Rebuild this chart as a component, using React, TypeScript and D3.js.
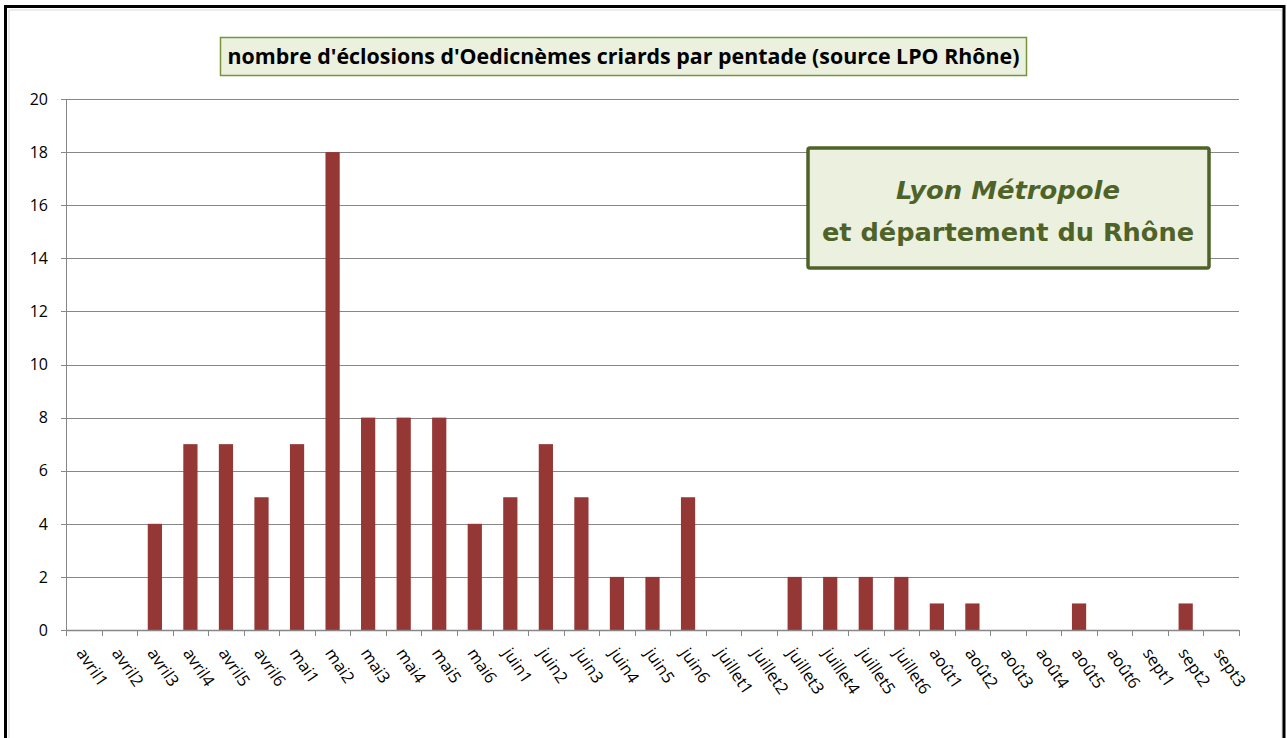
import React from "react";
import * as d3 from "d3";

const categories: string[] = [
  "avril1", "avril2", "avril3", "avril4", "avril5", "avril6",
  "mai1", "mai2", "mai3", "mai4", "mai5", "mai6",
  "juin1", "juin2", "juin3", "juin4", "juin5", "juin6",
  "juillet1", "juillet2", "juillet3", "juillet4", "juillet5", "juillet6",
  "août1", "août2", "août3", "août4", "août5", "août6",
  "sept1", "sept2", "sept3",
];
const values: number[] = [
  0, 0, 4, 7, 7, 5,
  7, 18, 8, 8, 8, 4,
  5, 7, 5, 2, 2, 5,
  0, 0, 2, 2, 2, 2,
  1, 1, 0, 0, 1, 0,
  0, 1, 0,
];
const yTicks: number[] = [0, 2, 4, 6, 8, 10, 12, 14, 16, 18, 20];
const title = "nombre d'éclosions d'Oedicnèmes criards par pentade (source LPO Rhône)";
const boxLines: string[] = ["Lyon Métropole", "et département du Rhône"];

const W = 1287;
const H = 738;
const plot = { left: 66, right: 1239, top: 99, bottom: 630 };
const font = "'Open Sans', 'Noto Sans', sans-serif";

export default function App() {
  const x = d3
    .scaleBand<string>()
    .domain(categories)
    .range([plot.left, plot.right])
    .paddingInner(0)
    .paddingOuter(0);
  const y = d3.scaleLinear().domain([0, 20]).range([plot.bottom, plot.top]);
  const bw = x.bandwidth();
  const barW = bw * 0.4;

  return (
    <svg
      width={W}
      height={H}
      style={{ position: "absolute", left: 0, top: 0, background: "#fff" }}
    >
      <rect x={0} y={0} width={W} height={H} fill="#fff" />
      {/* outer frame */}
      <path d="M9,738 V10 H1282 V738" fill="none" stroke="#d9d9d9" strokeWidth={1} />
      <path d="M5.5,738 V6.5 H1284 V738" fill="none" stroke="#000" strokeWidth={3} />

      {/* gridlines */}
      {yTicks.map((t) => (
        <line
          key={"g" + t}
          x1={plot.left - 5}
          x2={plot.right}
          y1={Math.round(y(t)) + 0.5}
          y2={Math.round(y(t)) + 0.5}
          stroke="#878787"
          strokeWidth={1}
        />
      ))}
      {/* y axis line */}
      <line
        x1={plot.left + 0.5}
        x2={plot.left + 0.5}
        y1={plot.top}
        y2={plot.bottom}
        stroke="#878787"
      />
      {/* y labels */}
      {yTicks.map((t) => (
        <text
          key={"yl" + t}
          x={48}
          y={y(t)}
          dy="0.36em"
          textAnchor="end"
          fontFamily={font}
          fontSize={16}
          fill="#000"
        >
          {t}
        </text>
      ))}

      {/* bars */}
      {categories.map((c, i) => (
        <rect
          key={"b" + c}
          x={(x(c) as number) + (bw - barW) / 2}
          y={y(values[i])}
          width={barW}
          height={plot.bottom - y(values[i])}
          fill="#953735"
        />
      ))}

      {/* x axis */}
      <line
        x1={plot.left}
        x2={plot.right}
        y1={plot.bottom + 0.5}
        y2={plot.bottom + 0.5}
        stroke="#878787"
        strokeWidth={1.5}
      />
      {categories.concat(["__end"]).map((c, i) => {
        const xx = i < categories.length ? (x(c) as number) : plot.right;
        return (
          <line
            key={"t" + i}
            x1={Math.round(xx) + 0.5}
            x2={Math.round(xx) + 0.5}
            y1={plot.bottom}
            y2={plot.bottom + 6}
            stroke="#878787"
          />
        );
      })}
      {categories.map((c) => {
        const cx = (x(c) as number) + bw / 2;
        return (
          <text
            key={"xl" + c}
            transform={`translate(${cx - 8},${653}) rotate(56)`}
            fontFamily={font}
            fontSize={16.5}
            fill="#000"
          >
            {c}
          </text>
        );
      })}

      {/* title */}
      <rect
        x={220.5}
        y={37.5}
        width={806}
        height={38}
        fill="#ebf1de"
        stroke="#77933c"
        strokeWidth={1.5}
      />
      <text
        x={623.5}
        y={64}
        textAnchor="middle"
        fontFamily={font}
        fontWeight="bold"
        fontSize={21}
        textLength={792}
        lengthAdjust="spacingAndGlyphs"
        fill="#000"
      >
        {title}
      </text>

      {/* annotation box */}
      <rect
        x={808}
        y={148}
        width={401}
        height={120}
        rx={2}
        fill="#ebf1de"
        stroke="#4f6228"
        strokeWidth={3.5}
      />
      <text
        x={1008}
        y={199}
        textAnchor="middle"
        fontFamily="'DejaVu Sans', sans-serif"
        fontWeight="bold"
        fontStyle="italic"
        fontSize={25}
        textLength={224}
        lengthAdjust="spacingAndGlyphs"
        fill="#4f6228"
      >
        {boxLines[0]}
      </text>
      <text
        x={1008}
        y={241}
        textAnchor="middle"
        fontFamily="'DejaVu Sans', sans-serif"
        fontWeight="bold"
        fontSize={25}
        textLength={372}
        lengthAdjust="spacingAndGlyphs"
        fill="#4f6228"
      >
        {boxLines[1]}
      </text>
    </svg>
  );
}
